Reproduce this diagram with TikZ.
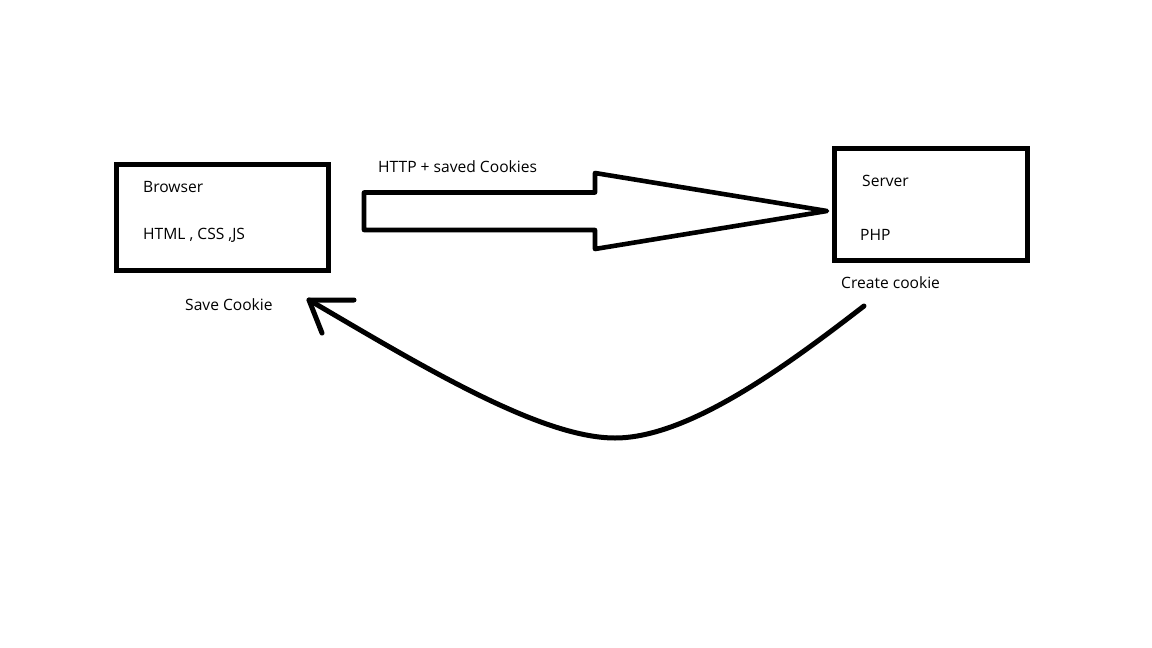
\documentclass[tikz,border=0pt]{standalone}
\usepackage{fontspec}
\setmainfont{Open Sans}
\usetikzlibrary{positioning}
\tikzset{
    panel/.style={draw=black, line width=5pt, inner sep=0pt},
    tag/.style={anchor=base west, inner sep=0pt, font=\fontsize{15.6}{18}\selectfont},
    stroke/.style={draw=black, line width=4.6pt, line join=round, line cap=round}
}

\begin{document}
\begin{tikzpicture}[x=1pt, y=-1pt]
\useasboundingbox (0,0) rectangle (1152,648);

% client side
\node[panel, minimum width=211.5pt, minimum height=106.5pt] (browser) at (222.25,217.25) {};
\node[tag] (browserName) at (143,192.7) {Browser};
\node[tag] (browserTech) at (143,239.3) {HTML , CSS ,JS};
\node[tag] (saveCookie) at (185,310) {Save Cookie};

% server side
\node[panel, minimum width=193.5pt, minimum height=112pt] (server) at (930.75,204.5) {};
\node[tag] (serverName) at (862,186.7) {Server};
\node[tag] (serverLang) at (860,240) {PHP};
\node[tag] (createCookie) at (841,288.3) {Create cookie};

% request
\draw[stroke] (364,192.5) -- (595,192.5) -- (595,173) -- (827,211)
    -- (595,249) -- (595,230) -- (364,230) -- cycle;
\node[tag] (request) at (378,172.3) {HTTP + saved Cookies};

% response
\coordinate (cookieOut) at (864,306);
\coordinate (cookieIn) at (309,300);
\draw[stroke, line width=5pt] (cookieOut) .. controls (790,363) and (690,438) .. (615,438)
    .. controls (540,438) and (420,365) .. (cookieIn);
\draw[stroke, line width=5pt] (cookieIn) ++(45,0) -- (cookieIn) -- ++(13,33);
\end{tikzpicture}
\end{document}
